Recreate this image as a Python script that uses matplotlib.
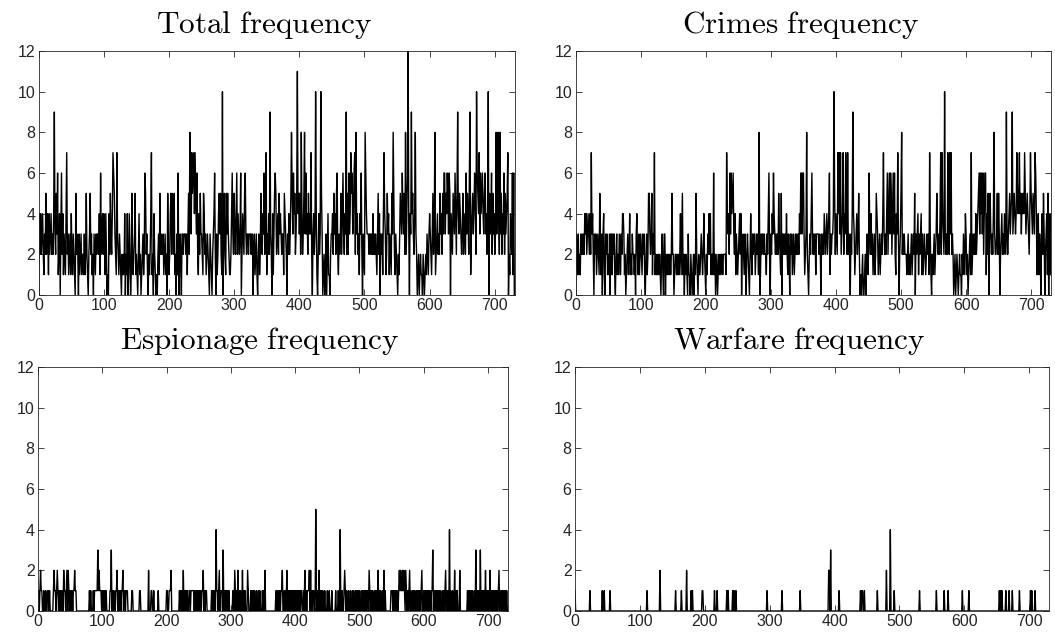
import numpy as np
import matplotlib
matplotlib.use("Agg")
from matplotlib import pyplot as plt

# daily counts, 731 days
total = [
    0,4,2,4,2,3,4,2,1,3, 2,5,2,4,3,1,4,2,3,4, 2,3,2,4,9,3,2,5,3,6,
    1,2,4,0,3,6,2,4,1,3, 2,1,4,7,2,3,1,2,3,1, 4,2,1,3,2,1,0,5,2,3,
    2,0,3,1,2,3,1,2,2,1, 3,1,2,5,2,1,0,2,3,5, 2,3,1,2,0,3,2,1,3,2,
    3,3,2,4,1,6,2,3,4,2, 4,3,1,4,2,0,1,0,4,2, 5,3,2,4,7,6,5,3,2,1,
    7,3,2,1,3,2,1,0,2,1, 2,1,4,0,2,1,4,0,1,4, 2,0,1,5,2,1,2,3,5,1,
    2,1,0,2,4,1,2,0,1,2, 3,1,2,6,5,2,3,1,0,2, 1,2,4,7,1,2,0,4,2,1,
    0,1,0,2,3,1,5,2,3,2, 2,3,1,2,3,1,2,0,5,2, 1,2,4,5,2,5,4,2,5,1,
    2,0,3,1,6,0,1,3,2,0, 3,3,2,3,3,3,2,3,1,3, 5,2,8,6,3,7,5,6,7,4,
    7,5,3,6,2,1,4,2,5,3, 3,2,1,5,4,2,3,1,2,3, 2,1,0,3,2,1,0,2,3,4,
    6,2,0,3,1,2,4,5,3,5, 2,1,10,0,3,5,2,1,5,3, 5,3,2,1,1,2,4,6,3,2,
    5,3,2,4,6,2,4,3,2,3, 6,0,2,4,3,2,5,6,3,2, 3,3,2,3,3,3,2,3,3,0,
    2,3,1,2,3,1,0,2,3,1, 2,5,3,2,4,3,6,2,5,7, 1,3,2,4,2,9,3,2,0,4,
    1,3,5,6,5,2,3,4,2,5, 3,4,3,2,3,3,1,5,4,3, 2,0,3,2,4,2,3,5,8,5,
    3,6,4,5,2,3,5,11,4,5, 3,5,2,8,4,2,3,5,8,3, 6,3,4,2,5,3,4,3,7,2,
    0,3,4,2,3,10,4,1,0,2, 4,2,3,10,5,3,0,1,2,0, 1,3,0,2,4,1,1,0,2,3,
    3,4,2,5,3,4,2,5,6,2, 1,3,2,3,5,2,4,6,3,2, 4,3,9,2,5,2,6,3,4,7,
    5,6,3,4,6,7,2,8,3,4, 2,3,1,4,3,6,2,0,3,2, 1,8,6,4,3,3,3,2,3,3,
    2,3,2,4,2,3,2,3,2,1, 3,5,2,4,0,3,2,3,1,4, 7,4,3,1,2,5,3,4,1,3,
    2,1,5,3,8,5,2,1,3,2, 1,0,2,1,3,5,4,3,6,4, 3,5,2,8,2,4,6,12,3,0,
    4,3,9,4,5,3,2,4,8,3, 2,0,1,2,0,1,2,1,1,0, 2,1,0,1,2,1,3,2,1,3,
    4,3,2,1,3,5,2,3,8,1, 2,3,4,2,3,2,5,3,4,2, 5,3,6,6,3,5,4,6,5,3,
    6,5,0,4,3,2,5,4,3,6, 4,2,5,9,4,3,5,4,3,2, 3,5,2,4,3,2,6,3,5,4,
    2,6,9,1,3,4,5,3,4,6, 5,2,10,6,5,4,7,3,6,4, 5,6,4,3,5,6,3,4,2,5,
    10,0,5,3,4,6,2,5,3,4, 2,3,8,3,5,8,4,2,8,3, 5,2,4,3,6,2,5,3,4,5,
    7,0,2,1,4,3,2,6,1,6,0,
]

crimes = [
    0,3,2,1,3,1,2,1,3,2, 3,2,3,2,4,3,4,2,3,4, 3,2,4,2,7,3,4,2,0,3,
    2,3,1,2,3,2,1,5,2,1, 3,0,3,4,1,0,3,2,3,1, 2,1,3,0,3,3,1,3,2,3,
    1,0,2,3,1,2,1,3,2,1, 3,2,4,4,3,1,2,0,1,2, 3,1,2,4,1,2,1,3,2,2,
    1,2,0,3,4,2,1,3,1,2, 3,2,1,3,2,3,1,0,2,3, 1,2,5,5,3,2,3,5,1,3,
    2,7,1,2,1,2,1,2,1,2, 1,0,2,3,1,0,3,3,0,2, 1,2,1,2,1,2,1,2,5,2,
    2,0,1,2,2,1,2,1,2,1, 2,4,1,3,5,1,2,0,2,1, 2,1,0,3,1,1,0,2,1,0,
    1,2,0,2,1,5,2,1,0,2, 1,1,2,3,2,1,2,4,2,1, 0,2,1,3,2,4,2,4,1,2,
    2,1,6,1,2,0,1,2,0,1, 2,1,2,1,2,2,1,2,2,2, 2,1,7,4,3,4,2,6,3,6,
    4,5,6,3,2,4,1,3,2,1, 2,3,4,2,4,0,2,3,2,1, 3,2,0,2,3,2,1,0,2,4,
    2,1,3,2,3,3,1,2,3,2, 3,1,8,0,1,3,2,3,3,2, 3,2,2,1,3,2,4,6,2,0,
    3,2,4,3,6,4,3,2,3,2, 3,2,5,3,2,1,5,0,3,2, 3,2,3,2,4,2,1,3,2,0,
    3,2,3,1,2,3,1,2,3,2, 3,2,3,2,4,3,6,6,3,6, 6,3,1,2,3,8,2,1,0,2,
    3,2,4,6,3,2,3,2,3,1, 3,3,3,3,2,3,2,0,3,2, 3,2,4,3,2,3,4,2,3,4,
    6,1,3,2,3,3,4,10,5,2, 4,3,2,7,4,7,3,7,2,3, 4,7,2,4,3,7,4,2,7,2,
    3,2,0,3,2,4,9,4,3,1, 2,3,4,2,3,5,2,0,1,0, 1,2,0,0,1,2,0,2,3,1,
    2,6,3,2,4,2,3,1,2,3, 1,2,5,4,3,1,2,3,1,2, 3,2,4,7,3,2,3,2,4,6,
    2,4,6,3,6,5,2,4,6,3, 6,2,1,4,3,7,3,0,2,3, 5,8,2,3,2,3,2,2,2,1,
    2,3,1,2,1,2,3,1,2,3, 2,5,0,3,2,3,4,1,3,2, 3,4,1,3,1,2,3,2,1,2,
    3,2,3,1,7,3,1,0,2,1, 2,3,1,2,3,5,3,2,3,2, 4,7,2,7,4,3,2,10,3,2,
    3,2,7,4,2,7,3,7,2,3, 2,0,1,2,0,1,2,1,0,1, 2,1,1,0,2,1,3,2,1,4,
    3,1,2,0,1,2,3,1,7,1, 2,3,2,3,2,4,2,3,4,5, 6,3,6,4,6,3,6,2,4,6,
    6,1,4,2,5,0,3,5,3,2, 3,2,4,8,3,2,2,3,5,2, 5,3,0,2,3,4,2,3,2,4,
    3,2,9,3,2,3,4,5,3,4, 5,9,3,4,5,4,3,4,7,5, 4,5,7,4,5,3,5,4,5,4,
    7,5,3,4,5,4,3,2,4,7, 5,4,3,5,4,3,7,6,4,1, 3,4,1,3,2,0,3,4,2,5,
    3,0,2,3,4,1,5,0,3,4,1,
]

# espionage: days with one event, then days with more
esp_one_days = [
    0,1,3,5,6,9,12,15,16,18, 24,26,27,29,31,33,35,36,38,41,42,44,48,50,52,53,55,56,58,59,
    80,82,86,88,89,90,91,92,94,96,97,98,100,101,103,105,106,
    112,113,116,118,121,122,125,127,128,130,131,134,135,137,138,139,
    146,147,158,159,176,177,180,187,200,201,204,205,206,
    220,222,224,228,230,232,235,236,238,239,240,241,242,244,245,247,248,250,252,253,255,256,259,261,262,
    270,272,274,278,279,281,284,285,286,290,292,293,295,297,
    303,304,307,309,313,315,320,322,327,331,333,335,337,340,343,345,349,351,
    370,371,373,374,376,378,379,383,385,389,391,393,394,396,398,399,401,403,405,407,409,410,413,417,
    419,420,421,426,428,429,433,435,439,441,443,446,450,453,457,
    463,467,473,476,478,480,483,486,489,491,494,496,498,500,503,505,506,508,510,512,513,516,518,520,
    523,525,527,531,533,536,540,
    549,550,551,553,555,556,558,559,561,563,565,566,568,570,573,575,577,580,583,585,588,590,592,594,596,
    600,602,604,606,608,610,612,613,616,618,620,622,624,626,629,631,633,636,638,
    642,645,650,652,668,670,672,674,676,679,684,686,690,692,694,698,
    700,701,705,707,709,710,712,714,716,719,721,723,725,727,729,
]
esp_peak_days = [4,25,30,40,45,47,57,93,95,114,123,132,172,207,226,257,277,282,288,306,311,318,326,
                 353,380,387,415,422,424,432,437,470,477,515,529,538,562,564,567,569,572,578,597,614,
                 634,640,648,656,681,688,696,703,717]
esp_peak_vals = [2,2,2,2,2,2,2,3,2,3,2,2,2,2,2,2,4,2,3,2,2,2,2,
                 2,2,2,2,2,2,5,2,4,2,2,2,2,2,2,2,2,2,2,2,3,
                 2,4,2,2,3,3,2,2,2]

war_days = [0,23,42,45,54,111,131,155,164,172,179,181,196,197,215,219,234,236,243,245,248,296,319,347,
            391,392,394,407,440,442,443,446,466,480,486,492,531,557,569,575,597,607,654,656,658,664,
            669,674,685,702,704,709]
war_vals = [1,1,1,1,1,1,2,1,1,2,1,1,1,1,1,1,1,1,1,1,1,1,1,1,
            2,2,3,1,1,1,1,1,1,2,4,1,1,1,1,1,1,1,1,1,1,1,
            1,1,1,1,1,1]

n_days = len(total)
espionage = np.zeros(n_days)
espionage[esp_one_days] = 1
espionage[esp_peak_days] = esp_peak_vals
warfare = np.zeros(n_days)
warfare[war_days] = war_vals

plt.rcParams['mathtext.fontset'] = 'cm'
plt.rcParams['font.family'] = ['Liberation Sans', 'DejaVu Sans']

fig = plt.figure(figsize=(10.55, 6.33), dpi=100)
W, H = 1055, 633
# axes boxes in pixels: left, top, right, bottom
boxes = [(38.7, 51, 515, 295), (575.7, 51, 1051.3, 295),
         (38, 367, 508, 611), (575, 367, 1049.3, 611)]
series = [total, crimes, espionage, warfare]
titles = ['Total', 'Crimes', 'Espionage', 'Warfare']

ink = '#262626'
for (l, t, r, b), y, name in zip(boxes, series, titles):
    ax = fig.add_axes([l / W, (H - b) / H, (r - l) / W, (b - t) / H])
    ax.plot(np.arange(len(y)), y, color='black', lw=1.0)
    ax.set_xlim(0, 731)
    ax.set_ylim(0, 12)
    ax.set_xticks(range(0, 701, 100))
    ax.set_yticks(range(0, 13, 2))
    ax.tick_params(direction='in', length=4, width=0.6, top=True, right=True,
                   labelsize=11.5, colors=ink, pad=2.5)
    for s in ax.spines.values():
        s.set_color(ink)
        s.set_linewidth(0.6)
    ttl = ax.set_title(r'$\mathrm{%s\ frequency}$' % name, fontsize=22.5, pad=13, color='black')
    # titles sit a little left of the axes centre
    ttl.set_x(0.5 - 13 / (r - l))

fig.savefig('out.png', dpi=100)
